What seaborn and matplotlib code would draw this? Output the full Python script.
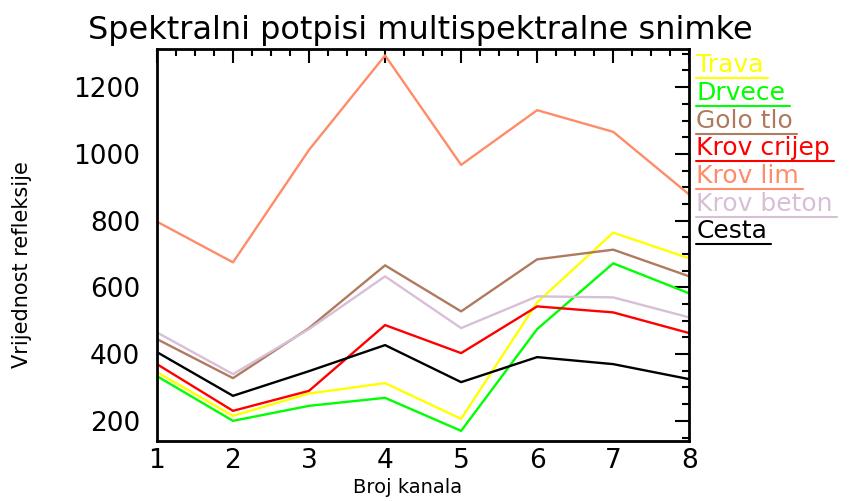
import pandas as pd
import seaborn as sns
import matplotlib.pyplot as plt
from matplotlib.ticker import MultipleLocator
from matplotlib.lines import Line2D

kanali = [1, 2, 3, 4, 5, 6, 7, 8]

trava = [346, 215, 282, 313, 206, 555, 764, 687]
drvece = [334, 200, 245, 269, 170, 475, 672, 582]
golo_tlo = [445, 328, 478, 666, 528, 684, 713, 633]
krov_crijep = [370, 230, 290, 487, 403, 543, 525, 463]
krov_lim = [797, 675, 1012, 1295, 967, 1131, 1066, 878]
krov_beton = [465, 340, 475, 633, 478, 573, 570, 510]
cesta = [406, 275, 349, 427, 316, 391, 370, 325]

klase = ["Trava", "Drvece", "Golo tlo", "Krov crijep", "Krov lim", "Krov beton", "Cesta"]
boje = ["#FFFF00", "#00FF00", "#B07A5E", "#FF0000", "#FF8C69", "#D8BFD8", "#000000"]

serije = [trava, drvece, golo_tlo, krov_crijep, krov_lim, krov_beton, cesta]
rows = []
for ime, vals in zip(klase, serije):
    for k, v in zip(kanali, vals):
        rows.append({"kanal": k, "refleksija": v, "klasa": ime})
df = pd.DataFrame(rows)

sns.set_style("white")
plt.rcParams['font.family'] = ['DejaVu Sans']

fig = plt.figure(figsize=(8.67, 5.01), dpi=100)
ax = fig.add_axes([0.181, 0.12, 0.614, 0.782])

sns.lineplot(data=df, x="kanal", y="refleksija", hue="klasa", hue_order=klase,
             palette=dict(zip(klase, boje)), linewidth=1.7, ax=ax, legend=False)

ax.set_xlim(1, 8)
ax.set_ylim(140, 1314)
ax.xaxis.set_major_locator(MultipleLocator(1))
ax.xaxis.set_minor_locator(MultipleLocator(0.25))
ax.yaxis.set_major_locator(MultipleLocator(200))
ax.yaxis.set_minor_locator(MultipleLocator(50))
ax.tick_params(which="both", direction="in", top=True, right=True, width=1.5,
               labelsize=19, colors="black")
ax.tick_params(axis="y", which="major", length=10, pad=12)
ax.tick_params(axis="x", which="major", length=10, pad=5)
ax.tick_params(which="minor", length=5)
for s in ax.spines.values():
    s.set_color("black")
    s.set_linewidth(2)

ax.set_xlabel("Broj kanala", fontsize=14, color="black")
ax.set_ylabel("Vrijednost refleksije", fontsize=15, color="black")
ax.xaxis.set_label_coords(0.47, -0.095)
ax.yaxis.set_label_coords(-0.235, 0.45)
fig.text(0.485, 0.94, "Spektralni potpisi multispektralne snimke", fontsize=23,
         ha="center", va="center", color="black")

# legend: coloured text with underline
fig.canvas.draw()
renderer = fig.canvas.get_renderer()
y0 = 0.870
for ime, boja in zip(klase, boje):
    t = fig.text(0.803, y0, ime, color=boja, fontsize=18, ha="left", va="center")
    bb = t.get_window_extent(renderer).transformed(fig.transFigure.inverted())
    fig.add_artist(Line2D([bb.x0, bb.x1 + 0.005], [bb.y0 - 0.002, bb.y0 - 0.002],
                          color=boja, lw=1.5, transform=fig.transFigure))
    y0 -= 0.0553

fig.savefig("out.png", dpi=100)
